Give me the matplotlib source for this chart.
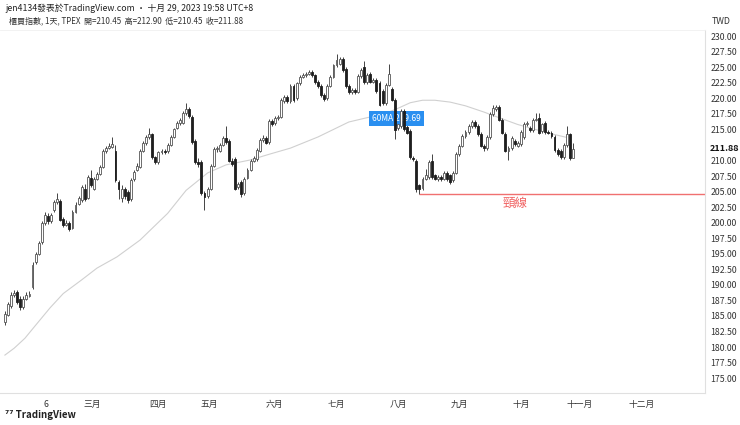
import matplotlib
matplotlib.use("Agg")
import matplotlib.pyplot as plt
import numpy as np

plt.rcParams['font.family'] = ['Noto Sans CJK TC', 'DejaVu Sans']

opens = [184.0,185.2,186.6,188.4,188.9,187.8,186.4,187.8,188.2,189.6,
193.6,195.0,196.9,200.0,201.0,200.2,202.0,203.3,203.5,200.6,
199.7,200.0,199.2,201.8,203.0,203.6,205.5,204.0,207.2,205.5,
207.0,207.9,209.0,211.5,212.0,212.2,211.5,206.5,204.0,205.5,
205.0,203.8,207.0,208.5,209.0,211.6,212.8,213.8,214.2,210.5,
209.8,211.3,211.6,211.5,212.5,213.8,215.3,216.0,216.0,217.6,
218.3,217.0,213.2,209.8,209.8,204.8,204.3,205.5,209.2,211.8,
211.6,212.5,213.6,213.2,210.0,210.2,205.8,206.5,204.8,207.2,
208.5,210.0,210.2,211.5,213.3,213.6,213.0,216.4,216.0,216.8,
217.0,219.6,220.3,219.5,222.0,220.0,222.4,223.5,223.8,224.0,
224.2,223.8,222.6,222.0,220.6,220.0,222.0,223.5,225.3,225.6,
226.4,224.8,222.0,221.0,221.3,221.0,223.6,225.0,222.6,223.9,
222.7,223.0,222.5,221.2,219.3,222.2,221.5,219.8,215.2,215.5,
218.0,215.4,214.8,210.4,210.0,206.0,205.6,207.0,207.4,210.0,
207.6,207.0,207.3,207.1,208.0,207.6,206.8,208.0,211.1,212.4,
214.0,214.6,215.6,216.2,215.6,214.3,212.4,212.0,213.8,217.5,
218.3,218.6,216.6,214.3,211.5,212.0,213.2,212.4,212.6,213.8,
215.9,215.3,214.9,216.6,216.8,214.8,216.0,214.6,214.4,213.8,
211.7,211.6,210.5,212.5,214.2,210.45]
closes = [185.3,186.9,188.4,188.7,187.2,186.4,187.8,188.4,188.6,193.2,
195.0,196.8,199.9,201.3,200.2,201.3,203.3,203.8,200.5,199.7,
200.0,199.0,201.8,202.9,204.0,205.7,203.8,207.3,206.0,207.0,
207.9,209.0,211.5,212.0,212.4,212.6,206.8,205.5,205.5,204.3,
203.6,206.9,208.2,209.2,211.6,212.8,213.8,214.2,210.5,209.8,
211.3,211.6,211.4,212.5,213.8,215.0,216.1,216.5,217.6,218.3,
217.2,213.0,209.8,209.4,204.8,204.2,205.5,209.2,211.8,212.0,
212.5,213.6,213.0,210.0,209.5,205.5,206.2,204.6,207.0,208.5,
210.0,210.4,211.7,213.3,213.6,212.9,216.4,215.9,216.9,217.0,
219.7,220.3,219.6,222.0,219.7,222.4,223.5,223.8,224.0,224.2,
223.8,222.6,222.0,220.5,219.9,222.0,223.5,225.3,226.2,226.4,
224.6,222.0,221.0,221.3,221.0,223.6,224.6,222.6,223.8,222.7,
222.9,221.2,219.0,219.2,222.2,224.0,219.8,214.9,215.9,218.0,
215.0,214.5,210.5,210.3,205.5,205.4,207.0,207.6,209.8,207.3,
207.1,207.3,207.0,208.0,207.0,206.6,208.0,211.1,212.4,214.0,
214.6,215.6,216.2,215.6,214.3,212.4,212.0,213.8,217.5,218.4,
218.6,216.6,214.5,211.6,212.0,213.6,212.6,212.8,214.6,215.9,
216.0,214.9,216.6,216.7,214.5,215.8,214.6,214.5,214.0,211.7,
211.0,210.5,212.5,214.2,210.4,211.88]
highs = [185.8,187.3,188.9,189.2,189.2,188.2,188.2,188.8,189.0,193.6,
195.3,197.1,200.3,201.8,201.5,201.6,203.7,204.7,203.8,200.9,
200.4,200.3,202.1,203.3,204.3,206.1,206.3,207.6,208.5,207.3,
208.2,209.3,211.8,212.3,212.8,213.8,212.5,206.8,206.0,205.8,
205.3,207.2,208.5,209.6,211.9,213.1,214.1,215.2,214.5,210.8,
211.6,211.9,211.9,212.8,214.1,215.3,216.4,216.8,217.9,219.3,
218.6,217.3,213.5,210.4,210.1,205.1,205.8,209.5,212.1,212.4,
212.8,213.9,215.5,213.5,210.4,210.5,206.5,206.8,207.3,208.8,
210.3,210.7,212.0,213.6,214.1,213.9,216.7,216.7,217.2,217.3,
220.0,220.6,220.6,222.3,222.3,222.7,223.8,224.1,224.3,224.5,
224.5,224.0,222.9,222.3,220.9,222.3,223.8,225.6,227.2,226.7,
226.7,225.1,222.3,221.6,221.6,223.9,224.9,226.0,224.1,224.2,
223.2,223.3,222.8,221.5,222.5,225.6,221.8,220.1,216.2,218.3,
218.3,215.7,215.1,210.7,210.3,206.3,207.3,208.6,210.1,211.0,
207.9,207.6,207.6,208.3,208.3,207.9,208.3,211.4,212.7,214.3,
214.9,215.9,216.5,216.5,215.9,214.6,212.7,214.1,217.8,218.9,
218.9,218.9,216.9,214.6,212.3,213.9,213.5,213.1,214.9,216.2,
216.3,215.6,216.9,217.6,217.6,216.1,216.3,214.9,214.7,214.1,
212.0,211.9,212.8,215.5,214.5,212.90]
lows = [183.5,185.0,186.3,188.0,186.9,186.0,186.1,187.5,188.0,189.3,
193.4,194.8,196.6,199.7,199.8,199.9,201.8,203.0,200.2,199.3,
199.4,198.6,199.0,201.6,202.8,203.3,203.5,203.8,205.7,205.2,
206.8,207.7,208.8,211.2,211.8,212.0,206.5,203.8,203.4,203.8,
203.2,203.5,206.7,208.3,208.8,211.3,212.5,213.5,210.2,209.4,
209.5,211.0,211.1,211.2,212.3,213.6,215.0,215.7,215.8,217.3,
216.9,212.7,209.4,208.9,204.5,202.0,204.0,205.3,209.0,211.4,
211.3,212.3,212.7,209.7,209.2,205.2,205.5,204.2,204.5,207.0,
208.3,209.8,209.9,211.3,213.0,212.6,212.7,215.6,215.7,216.6,
216.8,219.3,219.3,219.3,219.4,219.7,222.2,223.2,223.5,223.7,
223.5,222.3,221.7,220.2,219.6,219.8,221.8,223.3,225.0,225.3,
224.3,221.7,220.7,220.7,220.7,220.8,223.3,222.3,222.3,222.4,
222.4,220.9,218.7,218.9,219.0,222.0,219.5,213.5,214.9,215.2,
214.7,214.2,210.2,210.0,205.0,204.6,205.3,206.8,207.1,207.0,
206.8,206.7,206.7,206.8,206.7,206.3,206.5,207.8,210.8,212.1,
213.7,214.3,215.3,215.3,214.0,212.1,211.6,211.7,213.5,217.2,
218.0,216.3,214.2,211.3,210.1,211.7,212.3,212.1,212.3,213.5,
215.6,214.6,214.6,216.3,214.2,214.5,214.3,214.2,213.7,211.4,
210.7,210.2,210.2,212.2,210.1,210.45]

ma_idx = [0,3,6.5,10,14.7,19,25,30,36.5,44,53,59,66,72,80,86,93,102,112,118,123,128,132,136,140,145,150,156,162,167,172,178,184]
ma_vals = [178.7,179.8,181.4,183.5,186.3,188.6,190.8,192.7,194.5,197.2,201.5,205.2,208.0,209.3,210.1,211.0,212.0,213.8,216.2,216.9,217.4,218.4,219.3,219.7,219.7,219.4,218.8,217.8,216.7,215.8,215.1,214.3,213.6]

month_pos = [13.4,28.3,49.8,66.4,87.6,107.8,128,148.2,168.1,187.3,207.5]
month_labels = ['6','三月','四月','五月','六月','七月','八月','九月','十月','十一月','十二月']
neckline = 204.6
neck_start = 135
last_price = 211.88

fig = plt.figure(figsize=(7.4, 4.25), dpi=100)
ax = fig.add_axes([0, 0.0753, 0.9527, 0.8541])

x = np.arange(len(closes))
o = np.array(opens); c = np.array(closes); h = np.array(highs); l = np.array(lows)
up = c >= o
ax.vlines(x, l, h, color='#444444', linewidth=0.7, zorder=3)
bot = np.minimum(o, c); hgt = np.maximum(np.abs(c - o), 0.12)
ax.bar(x[up], hgt[up], bottom=bot[up], width=0.62, color='white', edgecolor='#555555', linewidth=0.6, zorder=4)
ax.bar(x[~up], hgt[~up], bottom=bot[~up], width=0.62, color='#1e1e1e', edgecolor='#1e1e1e', linewidth=0.6, zorder=4)

ax.plot(ma_idx, ma_vals, color='#d0d0d0', linewidth=0.8, zorder=2)

ax.hlines(neckline, neck_start, 240, color='#f07070', linewidth=1.0, zorder=2)
ax.text(166, neckline - 1.4, '頸線', color='#f06060', fontsize=9, ha='center', va='center')

ax.text(127.5, 216.8, '60MA 219.69', color='white', fontsize=6, ha='center', va='center', zorder=3,
        bbox=dict(boxstyle='square,pad=0.35', fc='#2a8ff0', ec='none'))

ax.set_xlim(-1.6, 228)
ax.set_ylim(172.6, 231.0)
ax.yaxis.tick_right()
ticks = [t for t in np.arange(175, 230.01, 2.5) if abs(t - 212.5) > 0.1]
ax.set_yticks(ticks)
ax.set_yticklabels([f'{t:.2f}' for t in ticks], fontsize=6.3, color='#333333')
ax.tick_params(axis='y', length=0, pad=4)
ax.set_xticks(month_pos)
ax.set_xticklabels(month_labels, fontsize=6.3, color='#333333')
ax.tick_params(axis='x', length=0, pad=5)
for s in ['top', 'left']:
    ax.spines[s].set_visible(False)
for s in ['right', 'bottom']:
    ax.spines[s].set_color('#e0e0e0')
ax.text(1.006, last_price, f'{last_price:.2f}', transform=ax.get_yaxis_transform(), fontsize=6.5,
        fontweight='bold', color='#111111', va='center', ha='left',
        bbox=dict(boxstyle='square,pad=0.2', fc='white', ec='none'))

fig.text(5/740, 1 - 8/425, 'jen4134發表於TradingView.com · 十月 29, 2023 19:58 UTC+8', fontsize=6.3, color='#222222', va='center')
fig.text(9/740, 1 - 21/425, '櫃買指數, 1天, TPEX  開=210.45  高=212.90  低=210.45  收=211.88', fontsize=5.8, color='#333333', va='center')
fig.text(712/740, 1 - 21/425, 'TWD', fontsize=6.3, color='#333333', va='center')
fig.text(5/740, 1 - 415/425, '⁷⁷ TradingView', fontsize=7, fontweight='bold', color='#222222', va='center')
fig.lines.append(plt.Line2D([0, 0.9527], [1 - 30/425, 1 - 30/425], transform=fig.transFigure, color='#f0f0f0', linewidth=0.6))

fig.savefig('out.png', dpi=100)
